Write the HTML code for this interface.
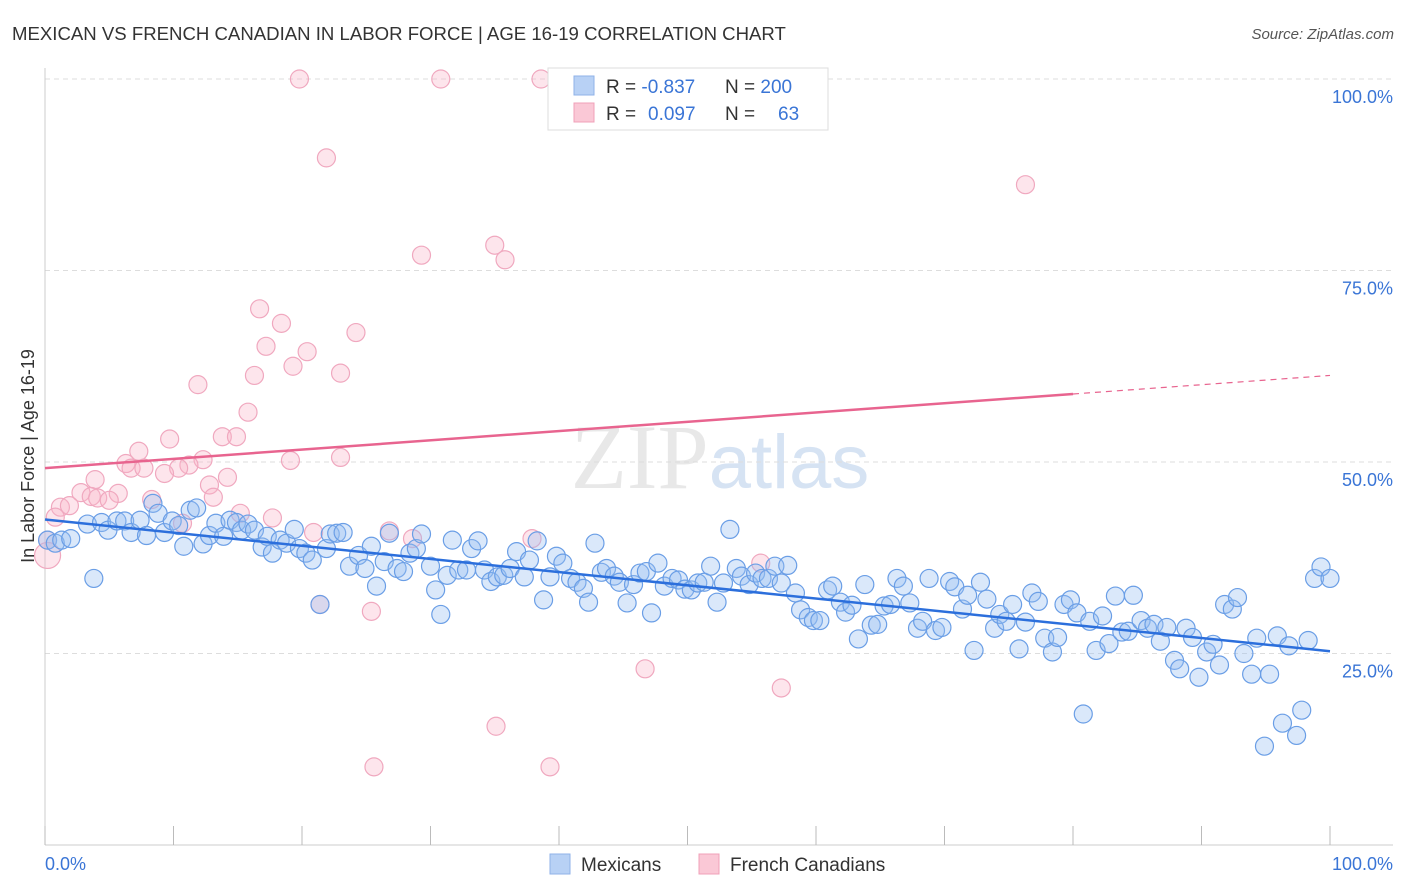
<!DOCTYPE html>
<html><head><meta charset="utf-8"><style>
body{margin:0;background:#fff;font-family:"Liberation Sans",sans-serif;}
svg{display:block}
</style></head><body>
<svg id="chart" width="1406" height="892">
<text x="12" y="40" font-size="18.6" fill="#333">MEXICAN VS FRENCH CANADIAN IN LABOR FORCE | AGE 16-19 CORRELATION CHART</text>
<text x="1394" y="39" font-size="15" fill="#555" font-style="italic" text-anchor="end">Source: ZipAtlas.com</text>
<text x="720" y="488" font-size="92" fill="#e8e8e8" text-anchor="middle" font-family="Liberation Serif,serif">ZIP<tspan fill="#d6e3f3" font-family="Liberation Sans,sans-serif" font-size="76">atlas</tspan></text>
<text transform="translate(34,456) rotate(-90)" font-size="18" fill="#333" text-anchor="middle">In Labor Force | Age 16-19</text>
<g id="grid"></g><g id="marks"></g><g id="lines"></g>
<g>
<rect x="548" y="68" width="280" height="62" fill="#fff" stroke="#ddd"/>
<rect x="574" y="76" width="20" height="19" fill="#b8d1f5" stroke="#8fb2e8"/>
<rect x="574" y="103" width="20" height="19" fill="#fac8d6" stroke="#f0a0b8"/>
<text x="606" y="93" font-size="19" fill="#333">R = <tspan fill="#3a75d6">-0.837</tspan><tspan x="725">N = </tspan><tspan fill="#3a75d6">200</tspan></text>
<text x="606" y="120" font-size="19" fill="#333">R = <tspan x="648" fill="#3a75d6">0.097</tspan><tspan x="725">N = </tspan><tspan x="778" fill="#3a75d6">63</tspan></text>
</g>
<g>
<rect x="550" y="854" width="20" height="20" fill="#b8d1f5" stroke="#8fb2e8"/>
<text x="581" y="871" font-size="19" fill="#333">Mexicans</text>
<rect x="699" y="854" width="20" height="20" fill="#fac8d6" stroke="#f0a0b8"/>
<text x="730" y="871" font-size="19" fill="#333">French Canadians</text>
</g>
</svg>
<script>
const yTicks=[25,50,75,100];
const xTickLabels=["0.0%","100.0%"];
const blueX=[0.2,0.8,1.3,2.0,3.3,3.8,4.4,4.9,5.6,6.2,6.7,7.4,7.9,8.4,8.8,9.3,9.9,10.4,10.8,11.3,11.8,12.3,12.8,13.3,13.9,14.4,14.9,15.3,15.8,16.3,16.9,17.3,17.7,18.3,18.8,19.4,19.8,20.3,20.8,21.4,21.9,22.2,22.7,23.2,23.7,24.4,24.9,25.4,25.8,26.4,26.8,27.4,27.9,28.4,28.9,29.3,30.0,30.4,30.8,31.3,31.7,32.2,32.8,33.2,33.7,34.2,34.7,35.2,35.7,36.2,36.7,37.3,37.7,38.3,38.8,39.3,39.8,40.3,40.9,41.4,41.9,42.3,42.8,43.3,43.7,44.3,44.7,45.3,45.8,46.3,46.8,47.2,47.7,48.2,48.8,49.3,49.8,50.3,50.8,51.3,51.8,52.3,52.8,53.3,53.8,54.2,54.8,55.3,55.8,56.3,56.8,57.3,57.8,58.4,58.8,59.4,59.8,60.3,60.9,61.3,61.9,62.3,62.8,63.3,63.8,64.3,64.8,65.3,65.8,66.3,66.8,67.3,67.9,68.3,68.8,69.3,69.8,70.4,70.8,71.4,71.8,72.3,72.8,73.3,73.9,74.3,74.8,75.3,75.8,76.3,76.8,77.3,77.8,78.4,78.8,79.3,79.8,80.3,80.8,81.3,81.8,82.3,82.8,83.3,83.8,84.3,84.7,85.3,85.8,86.3,86.8,87.3,87.9,88.3,88.8,89.3,89.8,90.4,90.9,91.4,91.8,92.4,92.8,93.3,93.9,94.3,94.9,95.3,95.9,96.3,96.8,97.4,97.8,98.3,98.8,99.3,100];
const blueY=[39.8,39.4,39.8,40.0,41.9,34.8,42.1,41.1,42.3,42.3,40.8,42.4,40.4,44.6,43.3,40.8,42.3,41.7,39.0,43.7,44.0,39.3,40.4,42.0,40.3,42.4,42.1,41.1,41.9,41.1,38.9,40.3,38.1,39.8,39.4,41.2,38.7,38.1,37.2,31.4,38.7,40.6,40.7,40.8,36.4,37.8,36.1,39.0,33.8,37.0,40.7,36.1,35.7,38.1,38.7,40.6,36.4,33.3,30.1,35.2,39.8,35.9,35.9,38.7,39.7,35.9,34.4,35.0,35.2,36.1,38.3,35.0,37.2,39.7,32.0,35.0,37.7,36.8,34.8,34.3,33.5,31.7,39.4,35.6,36.1,35.1,34.3,31.6,34.0,35.5,35.7,30.3,36.8,33.8,34.8,34.6,33.4,33.3,34.2,34.3,36.4,31.7,34.2,41.2,36.1,35.1,34.0,35.5,34.8,34.8,36.4,34.2,36.5,32.9,30.7,29.7,29.3,29.3,33.3,33.8,31.7,30.4,31.3,26.9,34.0,28.7,28.8,31.2,31.4,34.8,33.8,31.6,28.3,29.2,34.8,28.0,28.4,34.4,33.7,30.8,32.6,25.4,34.3,32.1,28.3,30.1,29.2,31.4,25.6,29.1,32.9,31.8,27.0,25.2,27.1,31.4,32.0,30.3,17.1,29.2,25.4,29.9,26.3,32.5,27.8,27.9,32.6,29.3,28.3,28.8,26.6,28.4,24.1,23.0,28.3,27.1,21.9,25.2,26.2,23.5,31.4,30.8,32.3,25.0,22.3,27.0,12.9,22.3,27.3,15.9,26.0,14.3,17.6,26.7,34.8,36.3,34.8];
const pinkX=[19.8,30.8,38.6,21.9,29.3,35.0,35.8,76.3,16.7,18.4,24.2,17.2,20.4,19.3,16.3,23.0,11.9,15.8,13.8,14.9,7.3,9.7,6.3,12.3,11.2,10.4,6.7,9.3,7.7,19.1,23.0,3.9,14.2,12.8,2.8,3.6,5.7,4.1,5.0,8.3,13.1,1.2,1.9,0.8,15.2,17.7,10.7,0.2,0.2,26.8,28.6,37.9,20.9,21.4,25.4,46.7,57.3,35.1,25.6,39.3,55.7];
const pinkY=[100,100,100,89.7,77.0,78.3,76.4,86.2,70.0,68.1,66.9,65.1,64.4,62.5,61.3,61.6,60.1,56.5,53.3,53.3,51.4,53.0,49.8,50.3,49.6,49.2,49.2,48.5,49.2,50.2,50.6,47.7,48.0,47.0,46.0,45.5,45.9,45.3,45.0,45.1,45.4,44.1,44.3,42.8,43.3,42.7,42.0,39.8,37.8,41.0,40.0,40.0,40.8,31.4,30.5,23.0,20.5,15.5,10.2,10.2,36.8];
const blueTrend=[42.5,25.3];
const pinkTrend=[49.2,61.3];
const pinkSolidEnd=80;

const NS="http://www.w3.org/2000/svg";
const X0=45,X1=1330,YB=845,YT=79;
const xs=v=>X0+(X1-X0)*v/100;
const ys=v=>YB-(YB-YT)*v/100;
function mk(tag,attrs,parent){const e=document.createElementNS(NS,tag);for(const k in attrs)e.setAttribute(k,attrs[k]);document.getElementById(parent).appendChild(e);return e;}
yTicks.forEach(t=>{
  const l=mk('line',{x1:X0,x2:1393,y1:ys(t),y2:ys(t),stroke:'#ddd','stroke-dasharray':'5,4'},'grid');
  
  
  const tx=mk('text',{x:1393,y:ys(t)+24,'font-size':18,fill:'#3a75d6','text-anchor':'end'},'grid');
  tx.textContent=t.toFixed(1)+'%';
  
  
});
const ax=mk('line',{x1:X0,x2:1393,y1:YB,y2:YB,stroke:'#ccc'},'grid');


const ay=mk('line',{x1:X0,x2:X0,y1:68,y2:YB,stroke:'#ccc'},'grid');


for(let i=0;i<=10;i++){
  const t=mk('line',{x1:xs(i*10),x2:xs(i*10),y1:826,y2:YB,stroke:'#bbb'},'grid');
  
  
}
[[0,'start',45],[1,'end',1393]].forEach(([i,a,x])=>{
  const t=mk('text',{x:x,y:870,'font-size':18,fill:'#3a75d6','text-anchor':a},'grid');
  t.textContent=xTickLabels[i];
  
  
});
pinkX.forEach((v,i)=>{
  const c=mk('circle',{cx:xs(v),cy:ys(pinkY[i]),r:(i==48?13:9),fill:'rgba(248,180,200,0.35)',stroke:'#f0a8bf','stroke-width':1.2},'marks');
  
  
});
blueX.forEach((v,i)=>{
  const c=mk('circle',{cx:xs(v),cy:ys(blueY[i]),r:9,fill:'rgba(150,190,240,0.35)',stroke:'#6a9ee6','stroke-width':1.2},'marks');
  
  
});
const bl=mk('line',{x1:xs(0),y1:ys(blueTrend[0]),x2:xs(100),y2:ys(blueTrend[1]),stroke:'#2c6fdc','stroke-width':2.5},'lines');


const pm=pinkTrend[0]+(pinkTrend[1]-pinkTrend[0])*pinkSolidEnd/100;
const pl=mk('line',{x1:xs(0),y1:ys(pinkTrend[0]),x2:xs(pinkSolidEnd),y2:ys(pm),stroke:'#e8648f','stroke-width':2.5},'lines');


const pd=mk('line',{x1:xs(pinkSolidEnd),y1:ys(pm),x2:xs(100),y2:ys(pinkTrend[1]),stroke:'#e8648f','stroke-width':1.2,'stroke-dasharray':'6,5'},'lines');


</script>
</body></html>
